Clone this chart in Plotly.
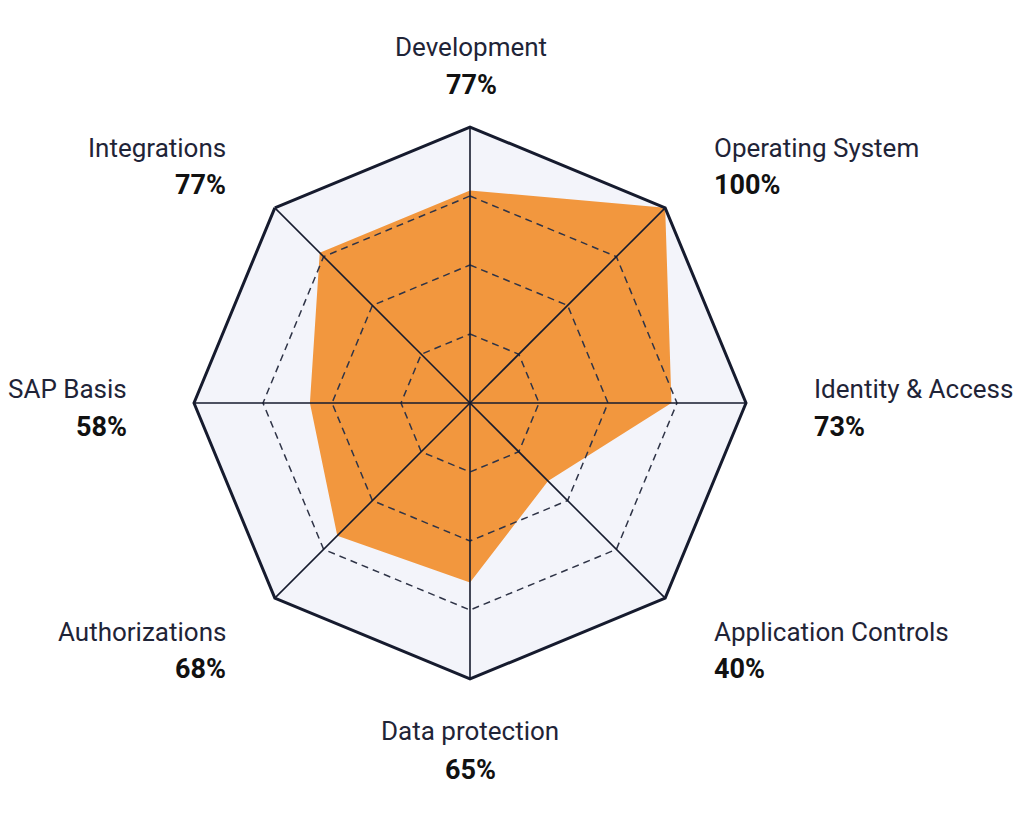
import plotly.graph_objects as go

categories = ["Development", "Operating System", "Identity & Access", "Application Controls",
              "Data protection", "Authorizations", "SAP Basis", "Integrations"]
values = [77, 100, 73, 40, 65, 68, 58, 77]
ring_values = [25, 50, 75]

W, H = 1026, 818
OFF = 8  # page body margin
line_col = "#161b2e"

fig = go.Figure()

# filled score shape
fig.add_trace(go.Scatterpolar(
    r=values + values[:1], theta=categories + categories[:1],
    fill="toself", fillcolor="#F2973E", line=dict(width=0, color="#F2973E"),
    mode="lines", hoverinfo="skip"))

# dashed rings drawn over the fill
for rv in ring_values:
    fig.add_trace(go.Scatterpolar(
        r=[rv] * (len(categories) + 1), theta=categories + categories[:1],
        mode="lines", line=dict(color="#2f3447", width=1.5, dash="7px,5px"), hoverinfo="skip"))

# spokes
for c in categories:
    fig.add_trace(go.Scatterpolar(
        r=[0, 100], theta=[c, c], mode="lines",
        line=dict(color=line_col, width=1.6), hoverinfo="skip"))

cx, cy, R = 470 - OFF, 403 - OFF, 276
fig.update_layout(
    width=W, height=H, showlegend=False,
    paper_bgcolor="white", margin=dict(l=0, r=0, t=0, b=0),
    polar=dict(
        domain=dict(x=[(cx - R) / W, (cx + R) / W], y=[1 - (cy + R) / H, 1 - (cy - R) / H]),
        bgcolor="#F3F4FA",
        gridshape="linear",
        radialaxis=dict(range=[0, 100], visible=False, showgrid=False),
        angularaxis=dict(rotation=90, direction="clockwise", showgrid=False,
                         showticklabels=False, ticks="", showline=True,
                         linecolor=line_col, linewidth=3, layer="above traces"),
    ),
)

# label positions: (x, name y, pct y, anchor)
label_pos = [
    (471, 47, 85, "center"),
    (712, 148, 185, "left"),
    (812, 389, 427, "left"),
    (712, 632, 669, "left"),
    (470, 731, 770, "center"),
    (228, 632, 669, "right"),
    (129, 389, 427, "right"),
    (228, 148, 185, "right"),
]
for c, v, (x, y1, y2, anc) in zip(categories, values, label_pos):
    fig.add_annotation(x=(x - OFF) / W, y=1 - (y1 - OFF) / H, xref="paper", yref="paper", text=c,
                       showarrow=False, xanchor=anc, yanchor="middle",
                       font=dict(family="Roboto", size=26, color="#1f2437"))
    fig.add_annotation(x=(x - OFF) / W, y=1 - (y2 - OFF) / H, xref="paper", yref="paper",
                       text=f"<b>{v}%</b>", showarrow=False, xanchor=anc, yanchor="middle",
                       font=dict(family="Roboto", size=27, color="#111111"))

fig.write_html("out.html")
